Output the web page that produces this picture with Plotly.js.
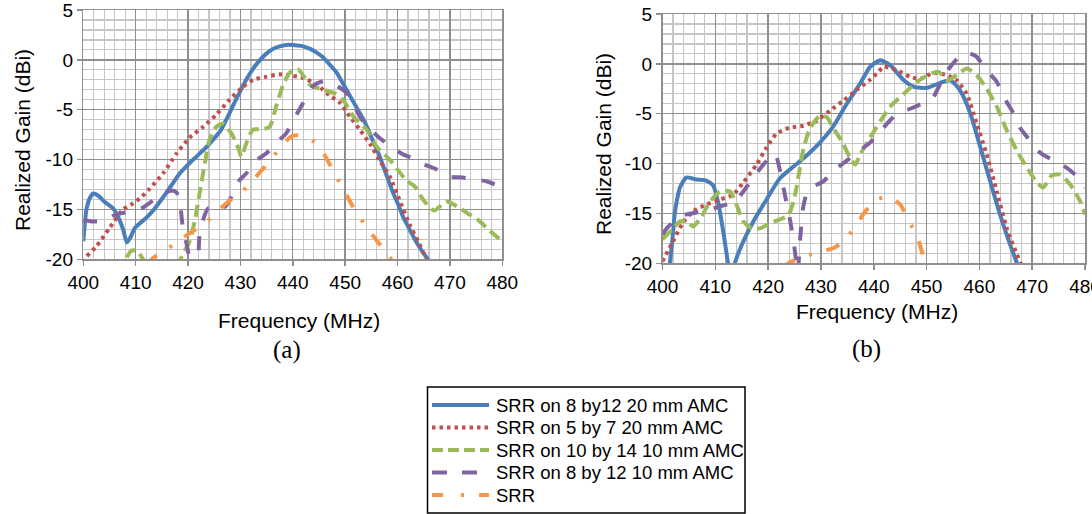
<!DOCTYPE html>
<html>
<head>
<meta charset="utf-8">
<script src="https://cdn.plot.ly/plotly-3.0.1.min.js"></script>
<style>html,body{margin:0;padding:0;background:#fff;}#chart{width:1092px;height:514px;}</style>
</head>
<body>
<div id="chart"></div>
<script>
// ---- Data ----
const seriesNames = ['SRR on 8 by12 20 mm AMC', 'SRR on 5 by 7 20 mm AMC', 'SRR on 10 by 14 10 mm AMC', 'SRR on 8 by 12 10 mm AMC', 'SRR'];
const xTickVals = [400, 410, 420, 430, 440, 450, 460, 470, 480];
const xTickText = ['400', '410', '420', '430', '440', '450', '460', '470', '480'];
const yTickVals = [-20, -15, -10, -5, 0, 5];
const yTickText = ['-20', '-15', '-10', '-5', '0', '5'];

// (a) panel
const aBlueF = [400, 400.6, 401.3, 401.9, 402.8, 404, 405.7, 406.7, 407.6, 408.3, 409.0, 409.8, 411, 412.1, 413.5, 415.2, 416.8, 418.4, 420, 421.6, 423.2, 424.8, 426.2, 427.3, 428.5, 429.8, 431.1, 432.4, 433.6, 434.9, 436.2, 437.5, 438.7, 440, 441.6, 443.3, 444.5, 445.8, 447.1, 448.4, 449.6, 450.9, 452.2, 453.5, 454.4, 455.2, 456.3, 457.3, 458.2, 459.2, 460.2, 461.1, 462.3, 463.5, 464.7, 465.8, 467];
const aBlueG = [-18.2, -15.0, -13.8, -13.4, -13.6, -14.2, -14.9, -15.8, -17.0, -18.3, -17.8, -16.9, -16.3, -15.8, -15.0, -13.8, -12.6, -11.4, -10.5, -9.7, -8.9, -8.0, -7.1, -6.0, -4.7, -3.3, -2.0, -0.9, -0.1, 0.6, 1.1, 1.35, 1.5, 1.5, 1.4, 1.1, 0.75, 0.24, -0.5, -1.3, -2.4, -3.6, -4.8, -6.0, -7.0, -8.0, -9.3, -10.7, -12.0, -13.4, -14.6, -15.8, -17.0, -18.2, -19.2, -20.0, -21];
const aRedF = [400, 400.5, 402.5, 405.1, 407.6, 409.5, 411, 412.7, 415.2, 417.8, 420.3, 422.9, 425.4, 427.9, 430.5, 432.4, 434.9, 437.5, 440, 442, 444.6, 447.1, 449, 450.9, 452.8, 454.7, 456.6, 458.5, 460.4, 462.3, 464.2, 465.5, 466.5];
const aRedG = [-20.3, -19.8, -18.7, -16.8, -15.0, -14.4, -13.8, -12.9, -11.4, -9.4, -7.8, -6.7, -5.5, -4.0, -2.7, -2.0, -1.7, -1.45, -1.6, -1.8, -2.5, -3.6, -4.3, -5.7, -7.0, -8.4, -10.1, -11.7, -14.1, -16.5, -18.5, -20, -21];
const aGreenF = [407, 408.3, 409.3, 410.3, 411.3, 412.3, 415, 418, 419.2, 420.3, 421.3, 422.2, 423.2, 424.1, 425.4, 426.7, 428.3, 429.5, 430.2, 431.1, 432.4, 434.3, 435.6, 436.8, 438.1, 439.4, 441, 443.3, 445.8, 448.2, 449.7, 451.6, 454.1, 456, 458.5, 461.7, 463.3, 465, 467, 469.3, 471.7, 473.7, 475.5, 477.5, 480];
const aGreenG = [-21.5, -19.8, -19.1, -19.2, -19.9, -21, -22, -20.5, -19.3, -18.2, -16.1, -13.4, -10.4, -8.0, -6.7, -6.4, -7.4, -8.7, -9.7, -8.4, -7.0, -6.95, -6.7, -4.7, -2.6, -1.3, -0.95, -2.5, -3.0, -3.4, -4.1, -5.7, -7.0, -8.7, -10.0, -12.1, -12.7, -14.1, -15.1, -14.2, -14.8, -15.5, -16.1, -17.1, -18.2];
const aPurpleF = [400, 401.6, 403.8, 406.3, 408.9, 411.1, 413.3, 415.2, 417.0, 417.8, 418.4, 419.0, 419.7, 420.3, 421, 421.9, 422.2, 422.9, 423.8, 425, 426, 427.3, 428.6, 429.8, 431.1, 433, 434.9, 437.5, 438.7, 440.7, 442, 443.9, 446.2, 449, 450.6, 452.8, 454.5, 456.3, 458.2, 461.1, 463, 465.2, 467.1, 469.8, 472.4, 475, 477.1, 480];
const aPurpleG = [-16.0, -16.2, -16.1, -15.5, -15.2, -14.9, -14.1, -13.4, -13.1, -13.3, -14.1, -16.8, -18.4, -20.0, -21.5, -20.0, -17.5, -16.0, -14.9, -15.0, -15.1, -14.6, -13.4, -12.1, -11.4, -10.1, -9.4, -8.0, -7.4, -5.5, -4.3, -2.6, -2.1, -2.8, -3.5, -5.7, -6.8, -7.7, -8.5, -9.5, -9.9, -10.5, -10.9, -11.7, -11.8, -12.0, -12.2, -12.8];
const aOrangeF = [412, 414, 416, 418, 420, 422, 424, 426, 428, 430, 432, 434, 436, 438, 440, 442, 444, 446, 448, 450, 452, 454, 456, 458, 459.5];
const aOrangeG = [-20.5, -19.6, -19.0, -18.2, -17.5, -16.8, -16.0, -15.0, -14.1, -13.4, -12.3, -11.1, -9.9, -8.5, -7.6, -7.6, -8.2, -9.5, -11.4, -13.3, -15.2, -16.7, -18.1, -19.4, -20.5];

// (b) panel
const bBlueF = [401, 401.4, 401.9, 402.3, 402.8, 403.3, 404.5, 406.4, 408.3, 409.6, 410.5, 411.5, 412.4, 413, 413.7, 415.3, 417.2, 419.7, 422.2, 424.8, 427.3, 429.8, 432.3, 434.9, 437.4, 439.3, 440.9, 441.3, 443.1, 445.7, 447.6, 450.1, 452.6, 454.5, 456.4, 458.3, 460.2, 462, 463.9, 465.8, 467.1, 467.5];
const bBlueG = [-23, -20, -17.5, -15.1, -13.5, -12.4, -11.4, -11.6, -11.7, -12.2, -13.8, -16.8, -20, -22, -20, -17.8, -15.8, -13.6, -11.5, -10.3, -9.2, -7.9, -6.3, -4.0, -2.0, -0.3, 0.3, 0.37, -0.13, -1.65, -2.3, -2.4, -1.9, -1.65, -2.7, -5.0, -8.4, -11.7, -15.1, -18.1, -20, -21];
const bRedF = [400, 402, 403.9, 405.8, 408.3, 410.9, 413.4, 415.3, 417.8, 419.7, 421.6, 424.1, 426.7, 429.2, 431.7, 434.2, 436.8, 439.3, 440.9, 441.9, 444.4, 446.9, 448.8, 451.3, 453.9, 455.7, 457.6, 459.5, 461.4, 463.3, 465.2, 467.1, 468, 469];
const bRedG = [-19.8, -17.8, -15.9, -14.8, -14.1, -13.6, -13.1, -11.9, -10.1, -8.4, -7.0, -6.4, -6.2, -5.7, -4.7, -3.7, -2.6, -1.6, -0.8, -0.3, -0.64, -1.3, -1.5, -0.9, -1.14, -1.65, -3.0, -6.0, -9.1, -12.8, -16.5, -19.1, -20.2, -21.5];
const bGreenF = [400, 402, 403.3, 404.5, 405.8, 407.4, 409, 410.9, 412.8, 414, 415.3, 416.9, 418.4, 420.3, 422.2, 423.8, 424.8, 425.4, 426, 426.7, 427.9, 429.8, 431.1, 432.3, 434.2, 435.5, 436.5, 437.4, 439.3, 441.3, 443.1, 445.7, 448.2, 450.7, 452.3, 453.9, 455.7, 457.6, 459.5, 461.4, 463.3, 465.2, 467.1, 469, 470.9, 472.1, 473.7, 475.3, 477.2, 479.1, 480];
const bGreenG = [-17.6, -16.5, -15.8, -15.8, -16.3, -15.3, -13.8, -12.8, -12.8, -14.1, -15.8, -16.5, -16.5, -16.0, -15.6, -15.2, -13.8, -12.3, -10.5, -8.5, -6.5, -5.2, -5.35, -6.4, -8.0, -9.4, -10.1, -9.1, -7.4, -5.7, -4.3, -3.0, -1.8, -1.0, -0.8, -1.65, -1.14, -0.47, -1.14, -2.5, -4.3, -6.7, -8.7, -10.4, -11.9, -12.4, -11.2, -11.1, -12.1, -13.8, -15.1];
const bPurpleF = [400, 400.8, 403, 404.5, 407.4, 409, 410.9, 413.7, 415.3, 417.2, 419.1, 421.3, 422.2, 423.2, 424.1, 425.0, 425.6, 426.0, 426.6, 427.3, 428.2, 430.4, 432.7, 434.9, 436.8, 439.3, 441, 444.4, 446.9, 449.1, 451.3, 453.2, 454.8, 456.7, 457.8, 459.5, 461.1, 463.3, 464.6, 466.5, 467.7, 469.6, 471.5, 473.7, 475.9, 478.1, 480];
const bPurpleG = [-17.1, -16.5, -15.4, -15.1, -14.8, -14.6, -14.3, -13.8, -12.8, -11.4, -10.1, -9.0, -10.6, -13.2, -15.5, -18.5, -21, -18, -14.5, -13.0, -12.4, -11.8, -10.6, -9.7, -8.9, -7.9, -6.9, -5.0, -4.5, -4.0, -3.3, -1.3, -0.1, 1.0, 1.1, 0.7, -0.5, -1.8, -3.3, -5.0, -6.4, -7.7, -8.9, -9.6, -10.2, -11.1, -12.4];
const bOrangeF = [423, 423.8, 426, 428.2, 430.4, 432.7, 434.6, 436.8, 438, 440.2, 442.8, 445, 446.6, 448.2, 449.1, 450];
const bOrangeG = [-20.5, -20, -19.5, -19.1, -18.8, -18.4, -17.6, -16.1, -15.1, -13.7, -13.3, -14.1, -15.7, -17.3, -18.8, -20.5];

// ---- Styles ----
const styles = [
  {color: '#4a7ebb', width: 4, dash: 'solid'},
  {color: '#c0504d', width: 4, dash: '3.5px,4px'},
  {color: '#9bbb59', width: 4, dash: '12px,6px'},
  {color: '#8064a2', width: 4, dash: '14px,16px'},
  {color: '#f79646', width: 4, dash: '14px,15px,3px,15px'}
];
const legendDash = ['solid', '3.5px,4px', '11px,5px', '15px,15px', '11px,18px,3px,15px'];

const panelA = [[aBlueF, aBlueG], [aRedF, aRedG], [aGreenF, aGreenG], [aPurpleF, aPurpleG], [aOrangeF, aOrangeG]];
const panelB = [[bBlueF, bBlueG], [bRedF, bRedG], [bGreenF, bGreenG], [bPurpleF, bPurpleG], [bOrangeF, bOrangeG]];

const traces = [];
[[panelA, 'x', 'y'], [panelB, 'x2', 'y2']].forEach(p => {
  p[0].forEach((d, i) => {
    traces.push({x: d[0], y: d[1], xaxis: p[1], yaxis: p[2], type: 'scatter', mode: 'lines',
      name: seriesNames[i], showlegend: false,
      line: {color: styles[i].color, width: styles[i].width, dash: styles[i].dash, shape: 'spline', smoothing: 0.6},
      hoverinfo: 'skip'});
  });
});

const W = 1092, H = 514;
const majorGrid = '#8f8f8f', minorGrid = '#c6c6c6';
const sans = 'Liberation Sans, Arial, sans-serif';
const tickFont = {family: sans, size: 19, color: '#000'};

function xAxis(domain, anchor) {
  return {domain: domain, anchor: anchor, range: [400, 480], tickmode: 'array', tickvals: xTickVals, ticktext: xTickText,
    showgrid: true, gridcolor: majorGrid, gridwidth: 1.4, showline: true, linecolor: majorGrid, linewidth: 1.5, mirror: true,
    ticks: 'outside', ticklen: 5, tickcolor: majorGrid, tickwidth: 1.5, tickfont: tickFont, zeroline: false, fixedrange: true,
    ticklabeloverflow: 'allow',
    minor: {dtick: 2, tick0: 400, showgrid: true, gridcolor: minorGrid, gridwidth: 1.2, ticks: ''}};
}
function yAxis(domain, anchor) {
  return {domain: domain, anchor: anchor, range: [-20, 5], tickmode: 'array', tickvals: yTickVals, ticktext: yTickText,
    showgrid: true, gridcolor: majorGrid, gridwidth: 1.4, showline: true, linecolor: majorGrid, linewidth: 1.5, mirror: true,
    ticks: 'outside', ticklen: 5, tickcolor: majorGrid, tickwidth: 1.5, tickfont: tickFont, zeroline: false, fixedrange: true,
    ticklabeloverflow: 'allow',
    minor: {dtick: 1, tick0: 0, showgrid: true, gridcolor: minorGrid, gridwidth: 1.2, ticks: ''}};
}

const titleFont = {family: sans, size: 21, color: '#000'};
const capFont = {family: 'Liberation Serif, Times New Roman, serif', size: 25, color: '#000'};
function ann(text, px, py, font, angle, anchor) {
  return {text: text, xref: 'paper', yref: 'paper', x: px / W, y: 1 - py / H, xanchor: anchor || 'center', yanchor: 'middle',
    showarrow: false, font: font, textangle: angle || 0};
}

// legend box drawn by hand (box, samples, labels)
const legBox = {l: 427.5, r: 745, t: 387, b: 513};
const legRow0 = 405, legRowStep = 22.5, legLineL = 432, legLineR = 489, legTextL = 494;
const shapes = [{type: 'rect', xref: 'paper', yref: 'paper', x0: legBox.l / W, x1: legBox.r / W, y0: 1 - legBox.b / H, y1: 1 - legBox.t / H,
  line: {color: '#000', width: 1.5}, fillcolor: '#fff', layer: 'above'}];
const annotations = [
  ann('Realized Gain (dBi)', 23, 140, titleFont, -90),
  ann('Realized Gain (dBi)', 603, 144, titleFont, -90),
  ann('Frequency (MHz)', 298.8, 320, titleFont),
  ann('Frequency (MHz)', 877, 311, titleFont),
  ann('(a)', 286.7, 350, capFont),
  ann('(b)', 866, 349, capFont)
];
seriesNames.forEach((nm, i) => {
  const yy = 1 - (legRow0 + i * legRowStep) / H;
  shapes.push({type: 'line', xref: 'paper', yref: 'paper', x0: legLineL / W, x1: legLineR / W, y0: yy, y1: yy, layer: 'above',
    line: {color: styles[i].color, width: styles[i].width, dash: legendDash[i]}});
  annotations.push(ann(nm, legTextL, legRow0 + i * legRowStep, {family: sans, size: 18.5, color: '#000'}, 0, 'left'));
});

const layout = {
  width: W, height: H,
  margin: {l: 0, r: 0, t: 0, b: 0, pad: 0, autoexpand: false},
  paper_bgcolor: '#fff', plot_bgcolor: '#fff',
  xaxis: xAxis([83.3 / W, 502.3 / W], 'y'),
  yaxis: yAxis([1 - 259.3 / H, 1 - 10 / H], 'x'),
  xaxis2: xAxis([662.5 / W, 1085 / W], 'y2'),
  yaxis2: yAxis([1 - 263.3 / H, 1 - 14 / H], 'x2'),
  showlegend: false,
  shapes: shapes,
  annotations: annotations
};

Plotly.newPlot('chart', traces, layout, {displayModeBar: false, staticPlot: true});
</script>
</body>
</html>
